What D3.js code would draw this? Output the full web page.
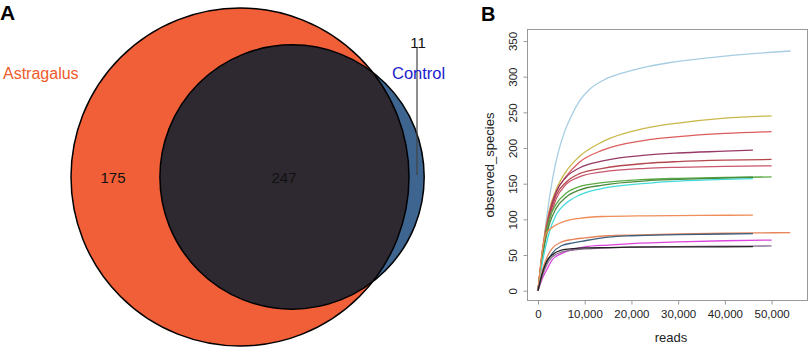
<!DOCTYPE html>
<html><head><meta charset="utf-8">
<script src="https://cdn.jsdelivr.net/npm/d3@7"></script>
<style>html,body{margin:0;padding:0;background:#fff}svg{display:block}text{font-family:"Liberation Sans",Arial,sans-serif}</style>
</head><body>
<svg id="c" width="810" height="349"></svg>
<script>
// ---------- Panel A data (Venn) ----------
const vennSets = ["Astragalus", "Control"];
const vennOnly = [175, 11];
const vennShared = 247;
const vennColors = ["#f05f38", "#3d6590"];
const vennSharedColor = "#2e2930";
const vennLabelColors = ["#ee5a2a", "#1c1ccc"];

// ---------- Panel B data (rarefaction curves) ----------
const xTicks = [0, 10000, 20000, 30000, 40000, 50000];
const yTicks = [0, 50, 100, 150, 200, 250, 300, 350];
const curveColors = ["#a6cde2","#c8b84a","#dd5c5c","#963a66","#b5474d","#c8566c","#5aab46","#4a8a3c","#45dada","#ef8d58","#e6845a","#3e5f7e","#dd44dd","#8a7090","#222222"];
const curveReads = [
  [0,1000,2000,3200,4500,5700,7000,8900,11000,14000,18000,22000,28000,38000,45400,54100],
  [0,1000,2420,3850,6000,8850,13850,23100,30000,40000,50000],
  [0,1000,2400,3850,6000,8850,13850,23100,30000,40000,50000],
  [0,1000,2400,3850,6000,8850,13850,23100,30000,40000,46000],
  [0,1000,2400,3850,6000,8850,13850,23100,30000,40000,50000],
  [0,1000,2400,3850,6000,8850,13850,23100,30000,40000,50000],
  [0,1000,2420,3850,6000,8850,13850,23100,30000,40000,50000],
  [0,1000,2420,3850,6000,8850,13850,23100,30000,40000,46000],
  [0,1000,2420,3850,6000,8850,13850,23100,30000,40000,46000],
  [0,800,1700,3850,6000,8850,13850,23100,35000,46000],
  [0,1000,2000,3000,5000,7500,10000,15000,20000,30000,40000,46000,54000],
  [0,1000,2000,3000,5000,7500,10000,15000,20000,30000,40000,46000],
  [0,1000,2000,3000,5000,7500,10000,15000,20000,30000,40000,50000],
  [0,1000,2000,3000,5000,7500,10000,15000,20000,30000,40000,50000],
  [0,1000,2000,3000,5000,7500,10000,15000,20000,30000,40000,46000]
];
const curveSpecies = [
  [0,55,110,160,198,223,243,266,282,295,305,312,319.5,327.5,332,336],
  [0,60,113,141,167,188,209,228,235,242,245],
  [0,58,110,138,160,180,197,211,216,220.5,223],
  [0,56,106,138,159,172,182,190,193,195.5,197],
  [0,54,102,133,152,164,171.5,178.5,181,183,184],
  [0,52,98,128,149,159.5,166.5,171.5,173,174.3,175],
  [0,55,100,121,136.5,145.8,151.4,156,157.5,158.7,159.5],
  [0,50,93,115,131,141,148,154,156,158,159],
  [0,42,82,106,122.5,134,143.5,150.5,153.5,156,157],
  [0,50,80,92,98,101.5,104,105,105.5,106],
  [0,30,48,59,68,72,74,77,78,79.5,80.5,81,81.3],
  [0,25,41,52,63,67,70,75,77,78.5,79.5,80],
  [0,18,31,43,52,58,61.5,64,66,68.5,70,71],
  [0,22,38,47,54,57,58.5,60,61,61.8,62.3,62.7],
  [0,26,43,50,57,59,60,60.5,61,61.3,61.5,61.7]
];

const svg = d3.select("#c");
svg.append("rect").attr("width",810).attr("height",349).attr("fill","#fff");

// ================= Panel A =================
function lensArea(r1, r2, d) {
  if (d >= r1 + r2) return 0;
  if (d <= Math.abs(r1 - r2)) return Math.PI * Math.min(r1, r2) ** 2;
  const a1 = r1*r1*Math.acos((d*d + r1*r1 - r2*r2) / (2*d*r1));
  const a2 = r2*r2*Math.acos((d*d + r2*r2 - r1*r1) / (2*d*r2));
  const t = 0.5*Math.sqrt((-d+r1+r2)*(d+r1-r2)*(d-r1+r2)*(d+r1+r2));
  return a1 + a2 - t;
}
const totals = [vennOnly[0] + vennShared, vennOnly[1] + vennShared];
const rScale = d3.scaleSqrt().domain([0, d3.max(totals)]).range([0, 169]);
const radii = totals.map(rScale);
const targetOverlap = Math.PI * rScale(vennShared) ** 2;
let lo = Math.abs(radii[0] - radii[1]), hi = radii[0] + radii[1];
for (let i = 0; i < 60; i++) {
  const mid = (lo + hi) / 2;
  if (lensArea(radii[0], radii[1], mid) > targetOverlap) lo = mid; else hi = mid;
}
const dist = (lo + hi) / 2;
const cy = 177;
const cxs = [240, 240 + dist];

const gA = svg.append("g");
gA.append("defs").append("clipPath").attr("id","clipA")
  .append("circle").attr("cx",cxs[0]).attr("cy",cy).attr("r",radii[0]);
gA.selectAll("circle.fill").data(vennSets).enter().append("circle")
  .attr("class","fill").attr("cx",(d,i)=>cxs[i]).attr("cy",cy).attr("r",(d,i)=>radii[i])
  .attr("fill",(d,i)=>vennColors[i]);
gA.append("circle").attr("cx",cxs[1]).attr("cy",cy).attr("r",radii[1])
  .attr("clip-path","url(#clipA)").attr("fill",vennSharedColor);
gA.selectAll("circle.outline").data(vennSets).enter().append("circle")
  .attr("class","outline").attr("cx",(d,i)=>cxs[i]).attr("cy",cy).attr("r",(d,i)=>radii[i])
  .attr("fill","none").attr("stroke","#000").attr("stroke-width",1.5);

// counts
gA.append("text").attr("x",113).attr("y",183).attr("text-anchor","middle")
  .attr("font-size",15).attr("fill","#111").text(vennOnly[0]);
gA.append("text").attr("x",284).attr("y",183).attr("text-anchor","middle")
  .attr("font-size",15).attr("fill","#111").text(vennShared);
gA.append("line").attr("x1",417).attr("x2",417).attr("y1",48).attr("y2",175)
  .attr("stroke","#444").attr("stroke-width",1.2);
gA.append("text").attr("x",418).attr("y",48).attr("text-anchor","middle")
  .attr("font-size",15).attr("fill","#111").text(vennOnly[1]);
// set labels
gA.append("text").attr("x",3).attr("y",79).attr("font-size",16)
  .attr("fill",vennLabelColors[0]).text(vennSets[0]);
gA.append("text").attr("x",392).attr("y",79).attr("font-size",16.5)
  .attr("fill",vennLabelColors[1]).text(vennSets[1]);
svg.append("text").attr("x",0).attr("y",20).attr("font-size",21).attr("font-weight","bold").text("A");

// ================= Panel B =================
svg.append("text").attr("x",481).attr("y",21).attr("font-size",20).attr("font-weight","bold").text("B");
const x = d3.scaleLinear().domain([0, 50000]).range([538, 771.6]);
const y = d3.scaleLinear().domain([0, 350]).range([290.7, 41]);
const box = {l:527.5, r:807.5, t:29.5, b:300.5};
const gB = svg.append("g");
gB.append("rect").attr("x",box.l).attr("y",box.t).attr("width",box.r-box.l).attr("height",box.b-box.t)
  .attr("fill","none").attr("stroke","#999").attr("stroke-width",1);

const xAxis = d3.axisBottom(x).tickValues(xTicks).tickSize(4).tickPadding(5).tickFormat(d3.format(","));
const gx = gB.append("g").attr("transform",`translate(0,${box.b})`).call(xAxis);
gx.select(".domain").remove();
gx.selectAll("line").attr("stroke","#999");
gx.selectAll("text").attr("font-size",11.5).attr("fill","#222").attr("font-family",'"Liberation Sans",Arial,sans-serif');

const yAxis = d3.axisLeft(y).tickValues(yTicks).tickSize(4).tickPadding(0);
const gy = gB.append("g").attr("transform",`translate(${box.l},0)`).call(yAxis);
gy.select(".domain").remove();
gy.selectAll("line").attr("stroke","#999");
gy.selectAll("text").attr("font-size",11.5).attr("fill","#222").attr("font-family",'"Liberation Sans",Arial,sans-serif')
  .attr("x",null).attr("dy",null)
  .attr("text-anchor","middle")
  .attr("transform","translate(-10.5,0) rotate(-90)");

gB.append("text").attr("x",671).attr("y",342).attr("text-anchor","middle").attr("font-size",13).attr("fill","#222").text("reads");
gB.append("text").attr("transform","translate(494,165) rotate(-90)").attr("text-anchor","middle")
  .attr("font-size",13).attr("fill","#222").text("observed_species");

const line = d3.line().x(d=>x(d[0])).y(d=>y(d[1])).curve(d3.curveMonotoneX);
const series = curveReads.map((r,i)=>r.map((v,j)=>[v, curveSpecies[i][j]]));
gB.selectAll("path.curve").data(series).enter().append("path")
  .attr("class","curve").attr("d",line).attr("fill","none")
  .attr("stroke",(d,i)=>curveColors[i]).attr("stroke-width",1.3);
</script>
</body></html>
